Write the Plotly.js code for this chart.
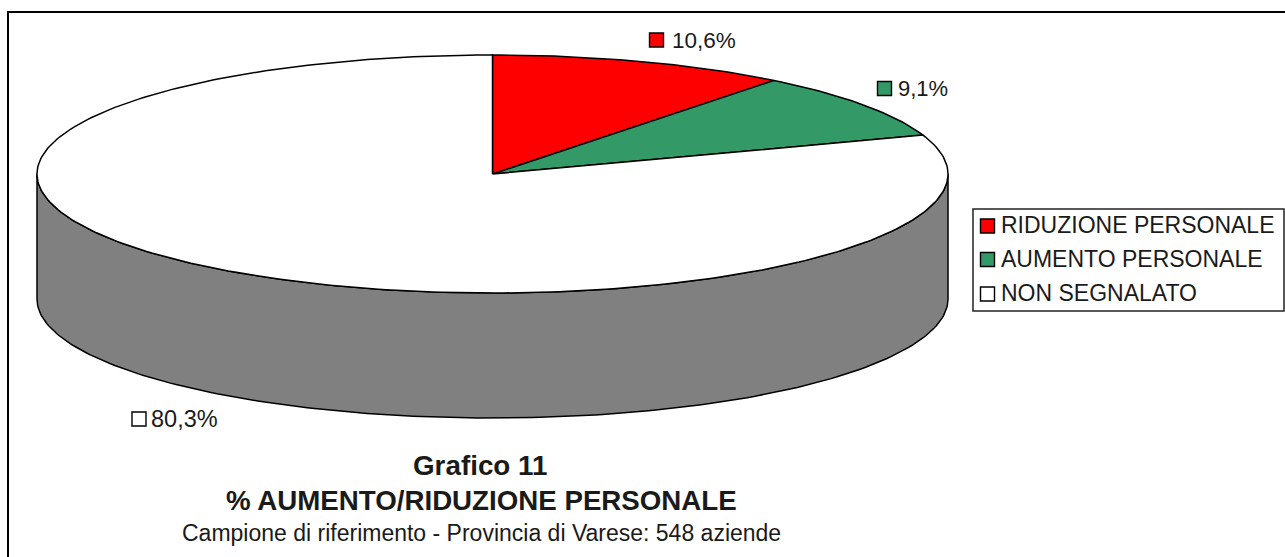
<!DOCTYPE html>
<html><head><meta charset="utf-8">
<script src="https://cdn.plot.ly/plotly-3.0.1.min.js"></script>
<style>html,body{margin:0;padding:0;background:#fff}#c{width:1285px;height:557px}</style>
</head><body><div id="c"></div>
<script>
const categories = ["RIDUZIONE PERSONALE","AUMENTO PERSONALE","NON SEGNALATO"];
const values = [10.6, 9.1, 80.3];
const valueLabels = ["10,6%","9,1%","80,3%"];
const colors = ["#ff0000","#339966","#ffffff"];
const wallColor = "#808080";
const titleLines = ["Grafico 11","% AUMENTO/RIDUZIONE PERSONALE","Campione di riferimento - Provincia di Varese: 548 aziende"];

// pie geometry, in the pixel-like units of the axes
const cx=492.5, cy=174, rx=455.5, ry=119, depth=125;
const pt=(deg,dy=0)=>[cx+rx*Math.sin(deg*Math.PI/180), cy-ry*Math.cos(deg*Math.PI/180)+dy];
function arc(a,b,dy=0){const n=Math.max(2,Math.ceil(Math.abs(b-a)));const o=[];
  for(let i=0;i<=n;i++)o.push(pt(a+(b-a)*i/n,dy));return o;}
const line={color:"#000",width:1.5};
const poly=(pts,fill,l=line)=>({type:"scatter",mode:"lines",x:pts.map(p=>p[0]),y:pts.map(p=>p[1]),
  fill:"toself",fillcolor:fill,line:l,hoverinfo:"skip",showlegend:false});

const traces=[];
// side wall: front half of the rim, dropped by the depth
traces.push(poly([...arc(90,270),...arc(270,90,depth)].concat([pt(90)]),wallColor));
// slices
let start=0;
values.forEach((v,i)=>{const end=start+v*3.6;
  traces.push(poly([[cx,cy],...arc(start,end),[cx,cy]],colors[i]));
  start=end;});

// swatches + labels
const sw=(x,y,c,s=14)=>({type:"scatter",mode:"markers",x:[x],y:[y],
  marker:{symbol:"square",size:s,color:c,line:{color:"#000",width:1.4}},hoverinfo:"skip",showlegend:false});
const labelPos=[[656.5,40],[884.5,88.5],[139,419]];
const textX=[671,897,150];
const labelSize=[22.5,22,23.5];
labelPos.forEach((p,i)=>traces.push(sw(p[0],p[1],colors[i])));
const legendY=[226,259.5,294];
const legendTextY=[225,258.5,293];
legendY.forEach((y,i)=>traces.push(sw(987.5,y,colors[i])));

const ann=(x,y,text,size,anchor="left",bold=false)=>({xref:"x",yref:"y",x,y,text:bold?`<b>${text}</b>`:text,
  showarrow:false,xanchor:anchor,yanchor:"middle",align:anchor,borderpad:0,
  font:{family:"Liberation Sans, Arial, sans-serif",size,color:"#1a1a1a"}});
const annotations=[
  ...valueLabels.map((t,i)=>ann(textX[i],labelPos[i][1],t,labelSize[i])),
  ...categories.map((t,i)=>ann(1000,legendTextY[i],t,23)),
  ann(480,465,titleLines[0],27.8,"center",true),
  ann(481.5,500,titleLines[1],27.7,"center",true),
  ann(481.5,533,titleLines[2],23,"center"),
];
const shapes=[
  {type:"rect",xref:"x",yref:"y",x0:8,y0:12,x1:1295,y1:570,line:{color:"#000",width:2},layer:"above"},
  {type:"rect",xref:"x",yref:"y",x0:973,y0:209,x1:1284,y1:311,line:{color:"#222",width:1.5},layer:"above"},
];
const ax={range:[0,1285],visible:false,fixedrange:true};
Plotly.newPlot("c",traces,{
  width:1285,height:557,margin:{l:0,r:0,t:0,b:0},paper_bgcolor:"#fff",plot_bgcolor:"#fff",showlegend:false,
  xaxis:ax,yaxis:{range:[557,0],visible:false,fixedrange:true},annotations,shapes
},{staticPlot:true});
</script></body></html>
